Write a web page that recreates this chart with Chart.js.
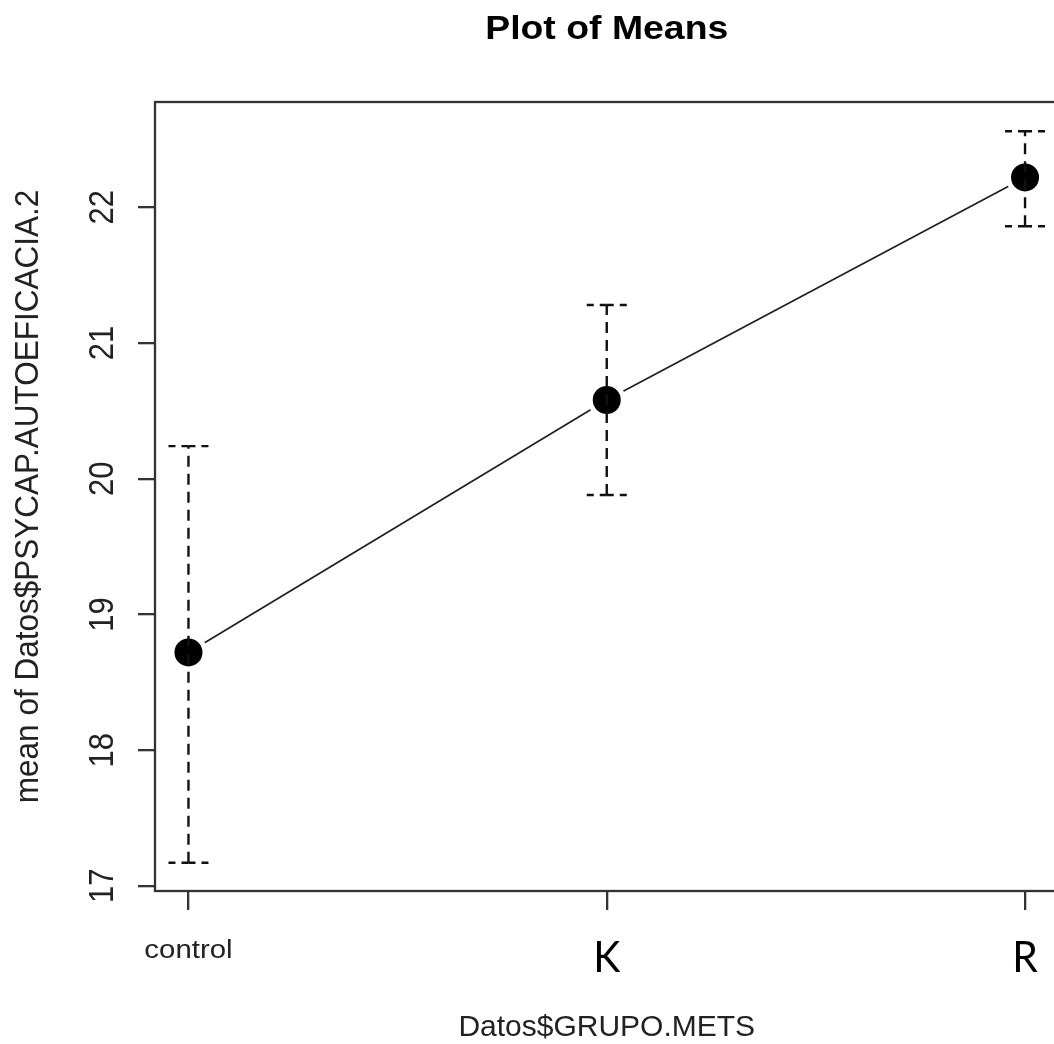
<!DOCTYPE html>
<html>
<head>
<meta charset="utf-8">
<script src="https://cdn.jsdelivr.net/npm/chart.js@4/dist/chart.umd.min.js"></script>
<style>
  html, body { margin: 0; padding: 0; background: #fff; overflow: hidden; }
  #wrap { width: 1054px; height: 1044px; overflow: hidden; }
  canvas { display: block; }
</style>
</head>
<body>
<div id="wrap"><canvas id="c" width="1080" height="1044"></canvas></div>
<script>
// ---- data ----
const categories = ['control', 'K', 'R'];
const means   = [18.72, 20.58, 22.22];
const lowerCI = [17.17, 19.88, 21.86];
const upperCI = [20.24, 21.28, 22.56];
const chartTitle = 'Plot of Means';
const xTitle = 'Datos$GRUPO.METS';
const yTitle = 'mean of Datos$PSYCAP.AUTOEFICACIA.2';

// ---- styling (kept separate from data) ----
const AXIS_COLOR = '#333';
const TEXT_COLOR = '#222';
const R_FONT = '"Liberation Sans", Arial, sans-serif';
const labelFonts = [
  { font: '26px ' + R_FONT, baseline: 958, sx: 1.13, color: TEXT_COLOR },
  { font: '43px Lato, "Open Sans", sans-serif', baseline: 972, sx: 0.95, color: '#000' },
  { font: '43px Lato, "Open Sans", sans-serif', baseline: 972, sx: 0.95, color: '#000' }
];

const points = means.map((m, i) => ({ x: i, y: m }));

// draw text with a horizontal (screen) stretch and optional rotation
function drawText(ctx, text, x, y, sx, rotate) {
  ctx.save();
  ctx.translate(x, y);
  ctx.scale(sx, 1);
  if (rotate) ctx.rotate(-Math.PI / 2);
  ctx.fillText(text, 0, 0);
  ctx.restore();
}

const boxPlugin = {
  id: 'box',
  beforeDatasetsDraw(chart) {
    const { ctx, chartArea: a } = chart;
    ctx.save();
    ctx.strokeStyle = AXIS_COLOR;
    ctx.lineWidth = 2.3;
    ctx.strokeRect(a.left, a.top, a.right - a.left, a.bottom - a.top);
    ctx.restore();
  }
};

const errorBarPlugin = {
  id: 'errorBars',
  afterDatasetsDraw(chart) {
    const { ctx, scales: { x, y } } = chart;
    const seg = (x1, y1, x2, y2) => {
      ctx.beginPath(); ctx.moveTo(x1, y1); ctx.lineTo(x2, y2); ctx.stroke();
    };
    ctx.save();
    ctx.strokeStyle = '#111';
    ctx.lineWidth = 2.4;
    const half = 21;
    for (let i = 0; i < means.length; i++) {
      const px = x.getPixelForValue(i);
      const pl = y.getPixelForValue(lowerCI[i]);
      const pu = y.getPixelForValue(upperCI[i]);
      ctx.setLineDash([11, 7]);
      seg(px, pl, px, pu);
      ctx.setLineDash([7, 6]);
      seg(px, pu, px - half, pu);
      seg(px, pu, px + half, pu);
      seg(px, pl, px - half, pl);
      seg(px, pl, px + half, pl);
    }
    ctx.restore();
  }
};

const textPlugin = {
  id: 'texts',
  afterDraw(chart) {
    const { ctx, chartArea: a, scales: { x, y } } = chart;
    const cx = (a.left + a.right) / 2;
    const cy = (a.top + a.bottom) / 2;
    ctx.save();
    ctx.textAlign = 'center';
    ctx.textBaseline = 'alphabetic';
    // title
    ctx.fillStyle = '#000';
    ctx.font = 'bold 34px ' + R_FONT;
    drawText(ctx, chartTitle, cx, 39, 1.1, false);
    // y tick labels (rotated)
    ctx.fillStyle = TEXT_COLOR;
    ctx.font = '31px ' + R_FONT;
    y.ticks.forEach(t => {
      drawText(ctx, String(t.value), 113, y.getPixelForValue(t.value), 1.12, true);
    });
    // x tick labels
    x.ticks.forEach(t => {
      const i = Math.round(t.value);
      if (i < 0 || i >= categories.length) return;
      const f = labelFonts[i];
      ctx.font = f.font;
      ctx.fillStyle = f.color;
      drawText(ctx, categories[i], x.getPixelForValue(i), f.baseline, f.sx, false);
    });
    // axis titles
    ctx.fillStyle = TEXT_COLOR;
    ctx.font = '30px ' + R_FONT;
    drawText(ctx, xTitle, cx, 1036, 1.0, false);
    ctx.font = '31.5px ' + R_FONT;
    drawText(ctx, yTitle, 38, cy, 1.06, true);
    ctx.restore();
  }
};

new Chart(document.getElementById('c'), {
  type: 'line',
  data: {
    datasets: [{
      data: points,
      borderColor: '#222',
      borderWidth: 1.8,
      backgroundColor: '#000',
      pointBackgroundColor: '#000',
      pointBorderColor: '#fff',
      pointBorderWidth: 5,
      pointRadius: 16.5,
      pointHoverRadius: 16.5,
      tension: 0,
      fill: false
    }]
  },
  options: {
    responsive: false,
    animation: false,
    events: [],
    layout: { padding: { left: 0, top: 102, right: 21.5, bottom: 0 } },
    plugins: { legend: { display: false }, tooltip: { enabled: false }, title: { display: false } },
    scales: {
      x: {
        type: 'linear',
        min: -0.08,
        max: 2.08,
        ticks: { stepSize: 1, includeBounds: false, display: false },
        grid: { drawOnChartArea: false, drawTicks: true, tickLength: 19, color: AXIS_COLOR, lineWidth: 2.3 },
        border: { display: false },
        afterFit(scale) { scale.height = 153; }
      },
      y: {
        type: 'linear',
        min: 16.962,
        max: 22.776,
        ticks: { stepSize: 1, includeBounds: false, display: false },
        grid: { drawOnChartArea: false, drawTicks: true, tickLength: 17, color: AXIS_COLOR, lineWidth: 2.3 },
        border: { display: false },
        afterFit(scale) { scale.width = 155; }
      }
    }
  },
  plugins: [boxPlugin, errorBarPlugin, textPlugin]
});
</script>
</body>
</html>
